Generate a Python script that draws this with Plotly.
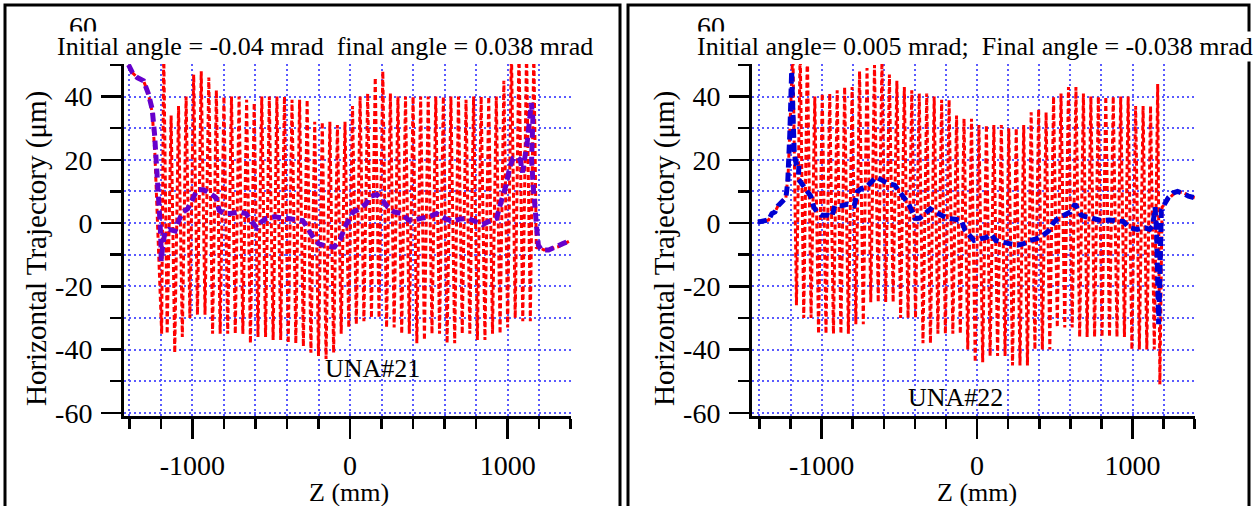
import plotly.graph_objects as go

W, H = 1258, 506

# ---------------- data ----------------
# Left panel (UNA#21): averaged trajectory (purple)
left_avg_z = [-1405, -1380, -1350, -1310, -1280, -1255, -1240, -1228, -1220, -1212, -1205, -1200, -1198,
              -1190, -1175, -1150, -1110, -1085, -1060, -1030, -1000, -970, -930, -890, -850, -830, -800,
              -760, -700, -660, -625, -590, -560, -530, -480, -420, -360, -300, -270, -240, -200, -150,
              -100, -60, -35, -10, 20, 60, 100, 130, 170, 210, 240, 280, 330, 370, 410, 450, 500, 550,
              600, 650, 700, 750, 800, 840, 880, 930, 960, 990, 1015, 1035, 1060, 1080, 1095, 1110, 1125,
              1140, 1150, 1160, 1152, 1162, 1175, 1185, 1195, 1215, 1260, 1300, 1350, 1400]
left_avg_y = [50, 47.5, 46, 45, 41, 36, 28, 20, 12, 6, 0, -6, -12,
              -8, -3, -2, -2.5, 1, 3.5, 4.5, 8, 10.5, 10.5, 9.5, 8, 4, 3,
              3, 3.5, 3, 0.5, -1.5, 0.5, 1.5, 2, 1.5, 1.2, 0.8, -1.5, -4, -6.5, -7.3,
              -7.6, -5, -1.5, 1, 3.5, 4.5, 6, 8.5, 9, 7, 5, 3.5, 3, 1, 1, 1.5, 2, 3,
              1.5, 0.5, 1.3, 1.5, 0.5, -0.5, 0.5, 1.5, 7, 12, 18, 20.5, 21, 20, 16, 20, 26,
              33, 38, 33, 20, 12, 6, -2, -7, -8.5, -8.5, -7.5, -6.5, -5.5]

# Left panel: oscillating trajectory (red), extrema
left_osc_z = [-1405, -1380, -1350, -1310, -1280, -1255, -1238, -1222, -1205, -1195,
              -1182, -1160, -1135, -1112, -1088, -1064, -1040, -1016, -992, -968, -944, -920,
              -896, -872, -848, -824, -800, -776, -752, -728, -704, -680, -656, -632, -608,
              -584, -560, -536, -512, -488, -464, -440, -416, -392, -368, -344, -320, -296,
              -272, -248, -224, -200, -176, -152, -128, -104, -80, -56, -32, -8, 16, 40, 64,
              88, 112, 136, 160, 184, 208, 232, 256, 280, 304, 328, 352, 376, 400, 424, 448,
              472, 496, 520, 544, 568, 592, 616, 640, 664, 688, 712, 736, 760, 784, 808, 832,
              856, 880, 904, 928, 952, 976, 1000, 1024, 1048, 1072, 1096, 1120, 1144, 1166,
              1182, 1195, 1230, 1280, 1320, 1360, 1400]
left_osc_y = [50, 47.5, 46, 45, 41, 35, 22, 0, -20, -35,
              55, -35, 34, -41, 37, -36, 40, -30, 47, -29, 48, -29,
              46, -35, 42, -35, 40, -35, 40, -35, 40, -35, 39, -38, 38,
              -36, 40, -36, 40, -37, 40, -37, 40, -38, 39, -38, 39, -39,
              39, -41, 32, -42, 32, -43, 32, -41, 31, -35, 32, -33, 37, -32, 40,
              -31, 41, -30, 46, -30, 48, -33, 41, -33, 40, -35, 40, -35, 40, -38, 40,
              -37, 40, -35, 40, -35, 40, -38, 40, -38, 40, -35, 39, -35, 40, -37, 40,
              -37, 40, -35, 40, -35, 45, -33, 55, -30, 55, -31, 55, -31, 55,
              -8, -7.5, -8.5, -8, -7.5, -6.5, -5.5]

# Right panel (UNA#22): averaged trajectory (blue)
right_avg_z = [-1410, -1370, -1341, -1320, -1300, -1280, -1255, -1230, -1218, -1210, -1205, -1200,
               -1197, -1193, -1188, -1182, -1176, -1165, -1145, -1150, -1120, -1095, -1070, -1050,
               -1030, -1000, -960, -935, -915, -870, -830, -790, -770, -740, -710, -680, -650,
               -610, -570, -530, -500, -470, -440, -420, -400, -370, -330, -300, -270, -230,
               -190, -140, -100, -80, -50, -20, 20, 60, 90, 120, 160, 210, 260, 300, 340, 380,
               420, 460, 490, 520, 560, 600, 630, 650, 670, 700, 750, 800, 850, 900, 940, 980,
               1030, 1080, 1110, 1130, 1145, 1155, 1163, 1168, 1175, 1180, 1185, 1200, 1230,
               1260, 1290, 1320, 1360, 1400]
right_avg_y = [0.3, 0.5, 1, 3, 3.5, 5.5, 7, 8, 13, 20, 28, 36,
               44, 48, 40, 30, 22, 19, 19.5, 14, 12, 10, 8.5, 5,
               3.5, 2.5, 2.5, 2, 5.5, 5.5, 6, 5.5, 10, 11, 11.5, 13, 14.5,
               13.5, 12.5, 12, 10, 8, 6, 4, 1.5, 1.5, 3.5, 4.5, 3.5, 2.5,
               1.5, 1.2, 0.8, -2, -4, -5.5, -5, -4.5, -3.5, -5.5, -6, -6.5, -7, -6.5, -5.5, -5,
               -4, -2.5, 0, 1.5, 2.5, 3.5, 6, 4.5, 2.5, 2, 1.5, 0.8, 1, 0.8, 0.5, -1.5,
               -2, -1.5, -2, -1, 5, -3, -15, -32, -20, -5, 4, 5.5, 8,
               9.5, 10, 9.5, 8.5, 8]

# Right panel: oscillating trajectory (red), extrema
right_osc_z = [-1410, -1370, -1341, -1320, -1300, -1280, -1255, -1230, -1215, -1205,
               -1185, -1162, -1138, -1115, -1092, -1068, -1044, -1020, -996, -972, -948, -924,
               -900, -876, -852, -828, -804, -780, -756, -732, -708, -684, -660, -636, -612,
               -588, -564, -540, -516, -492, -468, -444, -420, -396, -372, -348, -324, -300,
               -276, -252, -228, -204, -180, -156, -132, -108, -84, -60, -36, -12, 12, 36, 60,
               84, 108, 132, 156, 180, 204, 228, 252, 276, 300, 324, 348, 372, 396, 420, 444,
               468, 492, 516, 540, 564, 588, 612, 636, 660, 684, 708, 732, 756, 780, 804, 828,
               852, 876, 900, 924, 948, 972, 996, 1020, 1044, 1068, 1092, 1116, 1140, 1162,
               1176, 1190, 1230, 1260, 1290, 1330, 1370, 1400]
right_osc_y = [0.3, 0.5, 1, 3, 3.5, 5.5, 7, 8, 16, 30,
               55, -26, 55, -30, 55, -30, 40, -35, 41, -35, 41, -35,
               42, -35, 43, -35, 43, -32, 48, -32, 49, -25, 50, -25, 51,
               -25, 47, -25, 45, -30, 43, -30, 42, -30, 41, -38, 41, -38,
               40, -35, 39, -35, 39, -35, 34, -35, 33, -40, 33, -44, 31, -44, 31,
               -42, 31, -42, 31, -42, 30, -45, 30, -45, 31, -45, 35, -40, 36, -40, 35,
               -40, 40, -33, 41, -33, 43, -33, 43, -36, 41, -36, 40, -36, 40, -36, 40,
               -36, 40, -36, 40, -36, 40, -40, 37, -40, 37, -40, 37, -40, 44,
               -51, 5, 7.5, 9, 10, 9.5, 8.5, 8]

x_tickvals = [-1000, 0, 1000]
x_ticktext = ["-1000", "0", "1000"]
y_tickvals = [-60, -40, -20, 0, 20, 40]
y_ticktext = ["-60", "-40", "-20", "0", "20", "40"]

titles = ["Initial angle = -0.04 mrad \u00a0final angle = 0.038 mrad",
          "Initial angle= 0.005 mrad; \u00a0Final angle = -0.038 mrad"]
labels = ["UNA#21", "UNA#22"]
x_title = "Z (mm)"
y_title = "Horizontal Trajectory (\u03bcm)"
avg_colors = ["rgb(102,0,204)", "rgb(0,0,210)"]

# ---------------- layout helpers ----------------
FONT = "Liberation Serif, Times New Roman, serif"
FS = 26
TFS = 28
def px(x):
    return x / W
def py(y):
    return 1 - y / H

fig = go.Figure()

panels = [
    dict(osc=(left_osc_z, left_osc_y), avg=(left_avg_z, left_avg_y), xa="x", ya="y"),
    dict(osc=(right_osc_z, right_osc_y), avg=(right_avg_z, right_avg_y), xa="x2", ya="y2"),
]
for i, p in enumerate(panels):
    fig.add_trace(go.Scatter(x=p["osc"][0], y=p["osc"][1], mode="lines",
                             line=dict(color="rgb(255,0,0)", width=3, dash="5px,3px"),
                             xaxis=p["xa"], yaxis=p["ya"], showlegend=False, hoverinfo="skip"))
    fig.add_trace(go.Scatter(x=p["avg"][0], y=p["avg"][1], mode="lines",
                             line=dict(color=avg_colors[i], width=5, dash="9px,5px"),
                             xaxis=p["xa"], yaxis=p["ya"], showlegend=False, hoverinfo="skip"))

grid_col = "rgb(90,90,255)"
GD = "2px,3px"
def xaxis(domain, rng):
    return dict(domain=domain, range=rng, showline=True, linecolor="black", linewidth=3,
                mirror=False, zeroline=False, ticks="outside", ticklen=20, tickwidth=2.5,
                tickcolor="black", tickmode="array", tickvals=x_tickvals, ticktext=x_ticktext,
                showgrid=True, gridcolor=grid_col,
                gridwidth=2, griddash=GD, ticklabelstandoff=2,
                tickfont=dict(family=FONT, size=TFS, color="black"),
                minor=dict(dtick=200, tick0=0, ticks="outside", ticklen=10, tickwidth=2.5,
                           tickcolor="black", showgrid=True, gridcolor=grid_col, gridwidth=2,
                           griddash=GD),
                fixedrange=True)
def yaxis(anchor):
    return dict(domain=[py(416), py(64)], range=[-61.0, 50.3], anchor=anchor, showline=True,
                linecolor="black", linewidth=3, mirror=False, zeroline=False, ticks="outside",
                ticklen=20, tickwidth=2.5, tickcolor="black", tickmode="array",
                tickvals=y_tickvals, ticktext=y_ticktext, showgrid=True,
                gridcolor=grid_col, gridwidth=2, griddash=GD, ticklabelstandoff=3,
                tickfont=dict(family=FONT, size=TFS, color="black"),
                minor=dict(dtick=10, tick0=0, ticks="outside", ticklen=11, tickwidth=2.5,
                           tickcolor="black", showgrid=True, gridcolor=grid_col, gridwidth=2,
                           griddash=GD),
                fixedrange=True)

fig.update_layout(
    width=W, height=H, margin=dict(l=0, r=0, t=0, b=0, autoexpand=False),
    paper_bgcolor="white", plot_bgcolor="white",
    xaxis=xaxis([px(124), px(571)], [-1434, 1402]) | dict(anchor="y"),
    yaxis=yaxis("x"),
    xaxis2=xaxis([px(752), px(1195)], [-1448, 1402]) | dict(anchor="y2"),
    yaxis2=yaxis("x2"),
    font=dict(family=FONT, size=FS, color="black"),
)

# Frames around each panel
for x0, x1 in [(5, 620), (628, 1249)]:
    fig.add_shape(type="rect", xref="paper", yref="paper", x0=px(x0), x1=px(x1),
                  y0=py(530), y1=py(5), line=dict(color="black", width=3), layer="above")

ann = []
# partially hidden "60" tick labels (drawn first, title covers lower part)
for xr in [99, 727]:
    ann.append(dict(text="60", x=px(xr), y=py(26), xanchor="right", yanchor="middle",
                    font=dict(family=FONT, size=TFS, color="black")))
# titles
for xc, t in zip([325, 975], titles):
    ann.append(dict(text=t, x=px(xc), y=py(46), xanchor="center", yanchor="middle",
                    bgcolor="white", borderpad=0))
# panel labels
ann.append(dict(text=labels[0], x=px(372), y=py(368), xanchor="center", yanchor="middle"))
ann.append(dict(text=labels[1], x=px(955), y=py(397), xanchor="center", yanchor="middle"))
# axis titles
for xc in [349, 977]:
    ann.append(dict(text=x_title, x=px(xc), y=py(492), xanchor="center", yanchor="middle"))
for xc in [36, 664]:
    ann.append(dict(text=y_title, x=px(xc), y=py(249), xanchor="center", yanchor="middle",
                    textangle=-90, font=dict(family=FONT, size=29, color="black")))
for a in ann:
    a.update(xref="paper", yref="paper", showarrow=False)
    if "font" not in a:
        a["font"] = dict(family=FONT, size=FS, color="black")
fig.update_layout(annotations=ann)

fig.write_html("out.html", config=dict(displayModeBar=False, staticPlot=True),
               post_script="document.body.style.margin='0';document.body.style.overflow='hidden';")
